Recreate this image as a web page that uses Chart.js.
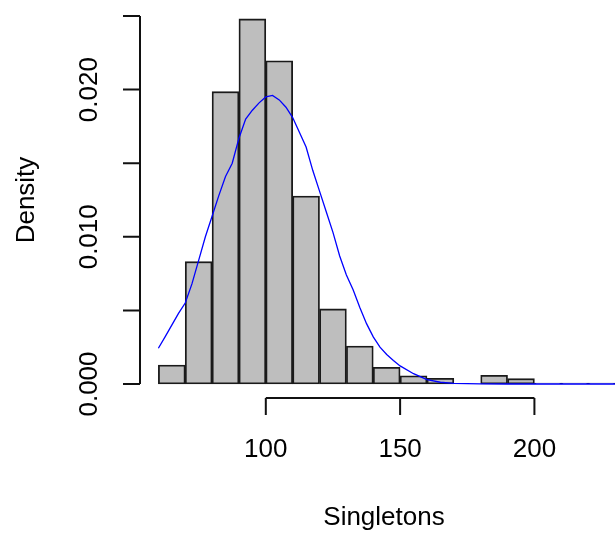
<!DOCTYPE html>
<html>
<head>
<meta charset="utf-8">
<script src="https://cdn.jsdelivr.net/npm/chart.js@4.4.1/dist/chart.umd.min.js"></script>
<style>
  html, body { margin: 0; padding: 0; background: #fff; }
  canvas { display: block; }
</style>
</head>
<body>
<canvas id="myChart" width="615" height="533"></canvas>
<script>
// histogram bins (mid points, width 10) and densities
const binMids = [65, 75, 85, 95, 105, 115, 125, 135, 145, 155, 165, 175, 185, 195, 205, 215, 225];
const densities = [0.00129, 0.00831, 0.01986, 0.0248, 0.02196, 0.01277, 0.0051, 0.00258, 0.00113,
    0.00056, 0.00039, 0, 0.00059, 0.00036, 0.00006, 0.00006, 0.00006];

// kernel density curve
const curveX = [60, 62.5, 65, 67.5, 70, 72.5, 75, 77.5, 80, 82.5, 85, 87.5, 90, 92.5, 95, 97.5,
    100, 102.5, 105, 107.5, 110, 112.5, 115, 117.5, 120, 122.5, 125, 127.5, 130, 132.5, 135,
    137.5, 140, 142.5, 145, 147.5, 150, 155, 160, 165, 170, 180, 190, 200, 210, 220, 230];
const curveY = [0.00243, 0.0032, 0.0040, 0.0048, 0.0055, 0.0068, 0.0084, 0.0100, 0.0114, 0.0128,
    0.0141, 0.0150, 0.0167, 0.0180, 0.0186, 0.0191, 0.0195, 0.0196, 0.0193, 0.0188, 0.0181,
    0.0171, 0.0161, 0.0145, 0.0131, 0.0117, 0.0103, 0.0087, 0.0074, 0.0064, 0.0052, 0.0041,
    0.0032, 0.0025, 0.0020, 0.0016, 0.00123, 0.0007, 0.0003, 0.00012, 0.00004, 0.00001,
    0, 0, 0, 0, 0];

const xTicks = [100, 150, 200];
const yTicks = [0, 0.005, 0.01, 0.015, 0.02, 0.025];
const yLabelTicks = [0, 0.01, 0.02];
const xTitle = 'Singletons';
const yTitle = 'Density';

const font = '26px "Liberation Sans", Arial, sans-serif';

// R style axes, drawn off the scales
const rAxes = {
    id: 'rAxes',
    afterDraw(chart) {
        const { ctx, scales: { x, y } } = chart;
        const y0 = y.getPixelForValue(0);
        const axisY = y0 + 14;
        const axisX = 140;
        ctx.save();
        ctx.strokeStyle = '#111';
        ctx.lineWidth = 2;
        ctx.fillStyle = '#000';
        ctx.font = font;

        // x axis
        ctx.beginPath();
        ctx.moveTo(x.getPixelForValue(xTicks[0]), axisY);
        ctx.lineTo(x.getPixelForValue(xTicks[xTicks.length - 1]), axisY);
        xTicks.forEach(t => {
            const px = x.getPixelForValue(t);
            ctx.moveTo(px, axisY);
            ctx.lineTo(px, axisY + 17);
        });
        ctx.stroke();
        ctx.textAlign = 'center';
        ctx.textBaseline = 'middle';
        xTicks.forEach(t => ctx.fillText(String(t), x.getPixelForValue(t), y0 + 66));
        ctx.fillText(xTitle, 384, y0 + 134);

        // y axis
        ctx.beginPath();
        ctx.moveTo(axisX, y.getPixelForValue(yTicks[0]));
        ctx.lineTo(axisX, y.getPixelForValue(yTicks[yTicks.length - 1]));
        yTicks.forEach(t => {
            const py = y.getPixelForValue(t);
            ctx.moveTo(axisX, py);
            ctx.lineTo(axisX - 17, py);
        });
        ctx.stroke();
        yLabelTicks.forEach(t => {
            ctx.save();
            ctx.translate(90, y.getPixelForValue(t));
            ctx.rotate(-Math.PI / 2);
            ctx.fillText(t.toFixed(3), 0, 0);
            ctx.restore();
        });
        ctx.save();
        ctx.translate(27, (y.top + y.bottom) / 2);
        ctx.rotate(-Math.PI / 2);
        ctx.fillText(yTitle, 0, 0);
        ctx.restore();
        ctx.restore();
    }
};

let ctx = document.getElementById('myChart').getContext('2d');
var myChart = new Chart(ctx, {         //eslint-disable-line
    type: 'bar',
    data: {
        datasets: [{
            type: 'line',
            label: 'density',
            data: curveX.map((v, i) => ({ x: v, y: curveY[i] })),
            borderColor: '#0000FF',
            borderWidth: 1.3,
            pointRadius: 0,
            tension: 0,
            order: 0,
            clip: false
        }, {
            label: 'Singletons',
            data: binMids.map((v, i) => ({ x: v, y: densities[i] })),
            backgroundColor: '#BEBEBE',
            borderColor: '#1a1a1a',
            borderWidth: 1.8,
            borderSkipped: false,
            barPercentage: 1,
            categoryPercentage: 1,
            order: 1,
            clip: false
        }]
    },
    options: {
        responsive: false,
        animation: false,
        events: [],
        layout: { padding: { left: 131.5, right: 0, top: 16, bottom: 149 } },
        plugins: { legend: { display: false }, tooltip: { enabled: false } },
        scales: {
            x: { type: 'linear', display: false, offset: false, min: 50, max: 230 },
            y: { display: false, min: 0, max: 0.025 }
        }
    },
    plugins: [rAxes]
});
</script>
</body>
</html>
